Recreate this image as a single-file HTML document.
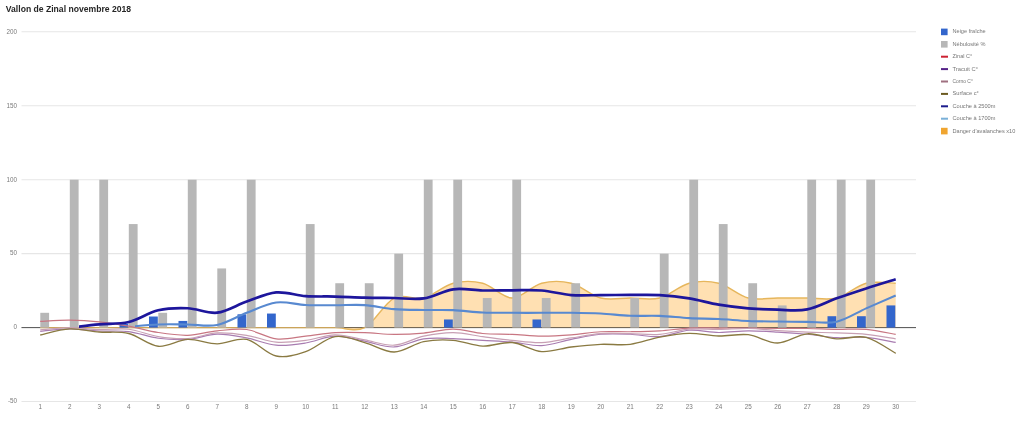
<!DOCTYPE html>
<html><head><meta charset="utf-8"><style>
html,body{margin:0;padding:0;background:#fff;width:1024px;height:422px;overflow:hidden}
svg{display:block;filter:blur(0.35px)}
text{font-family:"Liberation Sans",sans-serif}
.ax{font-size:6.3px;fill:#7a7a7a}
.lg{font-size:6.1px;fill:#767676}
.ti{font-size:9.8px;font-weight:bold;fill:#262626}
</style></head><body>
<svg width="1024" height="422" viewBox="0 0 1024 422">
<rect width="1024" height="422" fill="#fff"/>
<line x1="21.5" y1="31.80" x2="916" y2="31.80" stroke="#e6e6e6" stroke-width="1.1"/>
<line x1="21.5" y1="105.75" x2="916" y2="105.75" stroke="#e6e6e6" stroke-width="1.1"/>
<line x1="21.5" y1="179.70" x2="916" y2="179.70" stroke="#e6e6e6" stroke-width="1.1"/>
<line x1="21.5" y1="253.65" x2="916" y2="253.65" stroke="#e6e6e6" stroke-width="1.1"/>
<line x1="21.5" y1="401.55" x2="916" y2="401.55" stroke="#e6e6e6" stroke-width="1.1"/>
<text x="17" y="33.60" text-anchor="end" class="ax">200</text>
<text x="17" y="107.55" text-anchor="end" class="ax">150</text>
<text x="17" y="181.50" text-anchor="end" class="ax">100</text>
<text x="17" y="255.45" text-anchor="end" class="ax">50</text>
<text x="17" y="329.40" text-anchor="end" class="ax">0</text>
<text x="17" y="403.35" text-anchor="end" class="ax">-50</text>
<text x="40.20" y="409.1" text-anchor="middle" class="ax">1</text>
<text x="69.70" y="409.1" text-anchor="middle" class="ax">2</text>
<text x="99.20" y="409.1" text-anchor="middle" class="ax">3</text>
<text x="128.70" y="409.1" text-anchor="middle" class="ax">4</text>
<text x="158.20" y="409.1" text-anchor="middle" class="ax">5</text>
<text x="187.70" y="409.1" text-anchor="middle" class="ax">6</text>
<text x="217.20" y="409.1" text-anchor="middle" class="ax">7</text>
<text x="246.70" y="409.1" text-anchor="middle" class="ax">8</text>
<text x="276.20" y="409.1" text-anchor="middle" class="ax">9</text>
<text x="305.70" y="409.1" text-anchor="middle" class="ax">10</text>
<text x="335.20" y="409.1" text-anchor="middle" class="ax">11</text>
<text x="364.70" y="409.1" text-anchor="middle" class="ax">12</text>
<text x="394.20" y="409.1" text-anchor="middle" class="ax">13</text>
<text x="423.70" y="409.1" text-anchor="middle" class="ax">14</text>
<text x="453.20" y="409.1" text-anchor="middle" class="ax">15</text>
<text x="482.70" y="409.1" text-anchor="middle" class="ax">16</text>
<text x="512.20" y="409.1" text-anchor="middle" class="ax">17</text>
<text x="541.70" y="409.1" text-anchor="middle" class="ax">18</text>
<text x="571.20" y="409.1" text-anchor="middle" class="ax">19</text>
<text x="600.70" y="409.1" text-anchor="middle" class="ax">20</text>
<text x="630.20" y="409.1" text-anchor="middle" class="ax">21</text>
<text x="659.70" y="409.1" text-anchor="middle" class="ax">22</text>
<text x="689.20" y="409.1" text-anchor="middle" class="ax">23</text>
<text x="718.70" y="409.1" text-anchor="middle" class="ax">24</text>
<text x="748.20" y="409.1" text-anchor="middle" class="ax">25</text>
<text x="777.70" y="409.1" text-anchor="middle" class="ax">26</text>
<text x="807.20" y="409.1" text-anchor="middle" class="ax">27</text>
<text x="836.70" y="409.1" text-anchor="middle" class="ax">28</text>
<text x="866.20" y="409.1" text-anchor="middle" class="ax">29</text>
<text x="895.70" y="409.1" text-anchor="middle" class="ax">30</text>
<line x1="21.5" y1="327.6" x2="916" y2="327.6" stroke="#555" stroke-width="1"/>
<path d="M40.20,327.60 C45.12,327.60 59.87,327.60 69.70,327.60 C79.53,327.60 89.37,327.60 99.20,327.60 C109.03,327.60 118.87,327.60 128.70,327.60 C138.53,327.60 148.37,327.60 158.20,327.60 C168.03,327.60 177.87,327.60 187.70,327.60 C197.53,327.60 207.37,327.60 217.20,327.60 C227.03,327.60 236.87,327.60 246.70,327.60 C256.53,327.60 266.37,327.60 276.20,327.60 C286.03,327.60 295.87,327.60 305.70,327.60 C315.53,327.60 325.37,327.60 335.20,327.60 C345.03,327.60 354.87,332.53 364.70,327.60 C374.53,322.67 384.37,302.95 394.20,298.02 C404.03,293.09 413.87,300.49 423.70,298.02 C433.53,295.56 443.37,285.70 453.20,283.23 C463.03,280.76 472.87,280.76 482.70,283.23 C492.53,285.70 502.37,298.02 512.20,298.02 C522.03,298.02 531.87,285.70 541.70,283.23 C551.53,280.76 561.37,280.76 571.20,283.23 C581.03,285.70 590.87,295.56 600.70,298.02 C610.53,300.49 620.37,298.02 630.20,298.02 C640.03,298.02 649.87,300.49 659.70,298.02 C669.53,295.56 679.37,285.70 689.20,283.23 C699.03,280.76 708.87,280.76 718.70,283.23 C728.53,285.70 738.37,295.56 748.20,298.02 C758.03,300.49 767.87,298.02 777.70,298.02 C787.53,298.02 797.37,298.02 807.20,298.02 C817.03,298.02 826.87,300.49 836.70,298.02 C846.53,295.56 856.37,285.70 866.20,283.23 C876.03,280.76 890.78,283.23 895.70,283.23 L895.70,327.6 L40.20,327.6 Z" fill="#ff9900" fill-opacity="0.3" stroke="none"/>
<path d="M40.20,327.60 C45.12,327.60 59.87,327.60 69.70,327.60 C79.53,327.60 89.37,327.60 99.20,327.60 C109.03,327.60 118.87,327.60 128.70,327.60 C138.53,327.60 148.37,327.60 158.20,327.60 C168.03,327.60 177.87,327.60 187.70,327.60 C197.53,327.60 207.37,327.60 217.20,327.60 C227.03,327.60 236.87,327.60 246.70,327.60 C256.53,327.60 266.37,327.60 276.20,327.60 C286.03,327.60 295.87,327.60 305.70,327.60 C315.53,327.60 325.37,327.60 335.20,327.60 C345.03,327.60 354.87,332.53 364.70,327.60 C374.53,322.67 384.37,302.95 394.20,298.02 C404.03,293.09 413.87,300.49 423.70,298.02 C433.53,295.56 443.37,285.70 453.20,283.23 C463.03,280.76 472.87,280.76 482.70,283.23 C492.53,285.70 502.37,298.02 512.20,298.02 C522.03,298.02 531.87,285.70 541.70,283.23 C551.53,280.76 561.37,280.76 571.20,283.23 C581.03,285.70 590.87,295.56 600.70,298.02 C610.53,300.49 620.37,298.02 630.20,298.02 C640.03,298.02 649.87,300.49 659.70,298.02 C669.53,295.56 679.37,285.70 689.20,283.23 C699.03,280.76 708.87,280.76 718.70,283.23 C728.53,285.70 738.37,295.56 748.20,298.02 C758.03,300.49 767.87,298.02 777.70,298.02 C787.53,298.02 797.37,298.02 807.20,298.02 C817.03,298.02 826.87,300.49 836.70,298.02 C846.53,295.56 856.37,285.70 866.20,283.23 C876.03,280.76 890.78,283.23 895.70,283.23" fill="none" stroke="#e6b65c" stroke-width="1.4"/>
<line x1="21.5" y1="327.6" x2="916" y2="327.6" stroke="#555" stroke-width="1" stroke-opacity="0.2"/>
<rect x="40.30" y="312.81" width="8.8" height="14.79" fill="#b7b7b7"/>
<rect x="69.80" y="179.70" width="8.8" height="147.90" fill="#b7b7b7"/>
<rect x="99.30" y="179.70" width="8.8" height="147.90" fill="#b7b7b7"/>
<rect x="119.50" y="323.75" width="8.8" height="3.85" fill="#3366cc"/>
<rect x="128.80" y="224.07" width="8.8" height="103.53" fill="#b7b7b7"/>
<rect x="149.00" y="316.51" width="8.8" height="11.09" fill="#3366cc"/>
<rect x="158.30" y="312.81" width="8.8" height="14.79" fill="#b7b7b7"/>
<rect x="178.50" y="320.94" width="8.8" height="6.66" fill="#3366cc"/>
<rect x="187.80" y="179.70" width="8.8" height="147.90" fill="#b7b7b7"/>
<rect x="217.30" y="268.44" width="8.8" height="59.16" fill="#b7b7b7"/>
<rect x="237.50" y="314.29" width="8.8" height="13.31" fill="#3366cc"/>
<rect x="246.80" y="179.70" width="8.8" height="147.90" fill="#b7b7b7"/>
<rect x="267.00" y="313.55" width="8.8" height="14.05" fill="#3366cc"/>
<rect x="305.80" y="224.07" width="8.8" height="103.53" fill="#b7b7b7"/>
<rect x="335.30" y="283.23" width="8.8" height="44.37" fill="#b7b7b7"/>
<rect x="364.80" y="283.23" width="8.8" height="44.37" fill="#b7b7b7"/>
<rect x="394.30" y="253.65" width="8.8" height="73.95" fill="#b7b7b7"/>
<rect x="423.80" y="179.70" width="8.8" height="147.90" fill="#b7b7b7"/>
<rect x="444.00" y="319.47" width="8.8" height="8.13" fill="#3366cc"/>
<rect x="453.30" y="179.70" width="8.8" height="147.90" fill="#b7b7b7"/>
<rect x="482.80" y="298.02" width="8.8" height="29.58" fill="#b7b7b7"/>
<rect x="512.30" y="179.70" width="8.8" height="147.90" fill="#b7b7b7"/>
<rect x="532.50" y="319.47" width="8.8" height="8.13" fill="#3366cc"/>
<rect x="541.80" y="298.02" width="8.8" height="29.58" fill="#b7b7b7"/>
<rect x="571.30" y="283.23" width="8.8" height="44.37" fill="#b7b7b7"/>
<rect x="630.30" y="298.02" width="8.8" height="29.58" fill="#b7b7b7"/>
<rect x="659.80" y="253.65" width="8.8" height="73.95" fill="#b7b7b7"/>
<rect x="689.30" y="179.70" width="8.8" height="147.90" fill="#b7b7b7"/>
<rect x="718.80" y="224.07" width="8.8" height="103.53" fill="#b7b7b7"/>
<rect x="748.30" y="283.23" width="8.8" height="44.37" fill="#b7b7b7"/>
<rect x="777.80" y="305.42" width="8.8" height="22.19" fill="#b7b7b7"/>
<rect x="807.30" y="179.70" width="8.8" height="147.90" fill="#b7b7b7"/>
<rect x="827.50" y="316.21" width="8.8" height="11.39" fill="#3366cc"/>
<rect x="836.80" y="179.70" width="8.8" height="147.90" fill="#b7b7b7"/>
<rect x="857.00" y="316.21" width="8.8" height="11.39" fill="#3366cc"/>
<rect x="866.30" y="179.70" width="8.8" height="147.90" fill="#b7b7b7"/>
<rect x="886.50" y="305.42" width="8.8" height="22.19" fill="#3366cc"/>
<path d="M40.20,321.39 C45.12,321.19 59.87,320.13 69.70,320.21 C79.53,320.28 89.37,320.85 99.20,321.83 C109.03,322.82 118.87,324.35 128.70,326.12 C138.53,327.90 148.37,330.95 158.20,332.48 C168.03,334.01 177.87,335.56 187.70,335.29 C197.53,335.02 207.37,331.82 217.20,330.85 C227.03,329.89 236.87,328.19 246.70,329.52 C256.53,330.85 266.37,337.73 276.20,338.84 C286.03,339.95 295.87,337.21 305.70,336.18 C315.53,335.14 325.37,333.22 335.20,332.63 C345.03,332.04 354.87,332.33 364.70,332.63 C374.53,332.92 384.37,334.33 394.20,334.40 C404.03,334.48 413.87,333.96 423.70,333.07 C433.53,332.18 443.37,329.01 453.20,329.08 C463.03,329.15 472.87,332.63 482.70,333.52 C492.53,334.40 502.37,333.96 512.20,334.40 C522.03,334.85 531.87,336.10 541.70,336.18 C551.53,336.25 561.37,335.59 571.20,334.85 C581.03,334.11 590.87,332.26 600.70,331.74 C610.53,331.22 620.37,331.89 630.20,331.74 C640.03,331.59 649.87,331.47 659.70,330.85 C669.53,330.24 679.37,328.51 689.20,328.04 C699.03,327.58 708.87,328.04 718.70,328.04 C728.53,328.04 738.37,327.97 748.20,328.04 C758.03,328.12 767.87,328.41 777.70,328.49 C787.53,328.56 797.37,328.34 807.20,328.49 C817.03,328.64 826.87,329.23 836.70,329.37 C846.53,329.52 856.37,328.54 866.20,329.37 C876.03,330.21 890.78,333.57 895.70,334.40" fill="none" stroke="#c87682" stroke-width="1.2"/>
<path d="M40.20,331.30 C45.12,330.88 59.87,328.83 69.70,328.78 C79.53,328.73 89.37,330.53 99.20,331.00 C109.03,331.47 118.87,330.39 128.70,331.59 C138.53,332.80 148.37,336.94 158.20,338.25 C168.03,339.56 177.87,340.12 187.70,339.43 C197.53,338.74 207.37,334.35 217.20,334.11 C227.03,333.86 236.87,336.10 246.70,337.95 C256.53,339.80 266.37,344.36 276.20,345.20 C286.03,346.04 295.87,344.49 305.70,342.98 C315.53,341.48 325.37,336.47 335.20,336.18 C345.03,335.88 354.87,339.41 364.70,341.21 C374.53,343.01 384.37,347.37 394.20,346.97 C404.03,346.58 413.87,340.25 423.70,338.84 C433.53,337.44 443.37,338.30 453.20,338.54 C463.03,338.79 472.87,339.73 482.70,340.32 C492.53,340.91 502.37,341.21 512.20,342.09 C522.03,342.98 531.87,346.09 541.70,345.64 C551.53,345.20 561.37,341.33 571.20,339.43 C581.03,337.53 590.87,335.12 600.70,334.26 C610.53,333.39 620.37,333.86 630.20,334.26 C640.03,334.65 649.87,337.29 659.70,336.62 C669.53,335.96 679.37,330.95 689.20,330.26 C699.03,329.57 708.87,332.38 718.70,332.48 C728.53,332.58 738.37,330.93 748.20,330.85 C758.03,330.78 767.87,331.47 777.70,332.04 C787.53,332.60 797.37,333.32 807.20,334.26 C817.03,335.19 826.87,337.14 836.70,337.66 C846.53,338.17 856.37,336.57 866.20,337.36 C876.03,338.15 890.78,341.55 895.70,342.39" fill="none" stroke="#a87cb0" stroke-width="1.2"/>
<path d="M40.20,329.82 C45.12,329.45 59.87,327.62 69.70,327.60 C79.53,327.58 89.37,329.40 99.20,329.67 C109.03,329.94 118.87,328.07 128.70,329.23 C138.53,330.39 148.37,335.07 158.20,336.62 C168.03,338.17 177.87,339.16 187.70,338.54 C197.53,337.93 207.37,333.47 217.20,332.92 C227.03,332.38 236.87,333.76 246.70,335.29 C256.53,336.82 266.37,341.26 276.20,342.09 C286.03,342.93 295.87,341.53 305.70,340.32 C315.53,339.11 325.37,334.92 335.20,334.85 C345.03,334.77 354.87,338.15 364.70,339.88 C374.53,341.60 384.37,345.82 394.20,345.20 C404.03,344.58 413.87,338.27 423.70,336.18 C433.53,334.08 443.37,332.55 453.20,332.63 C463.03,332.70 472.87,335.34 482.70,336.62 C492.53,337.90 502.37,339.33 512.20,340.32 C522.03,341.31 531.87,342.93 541.70,342.54 C551.53,342.14 561.37,339.43 571.20,337.95 C581.03,336.47 590.87,334.38 600.70,333.66 C610.53,332.95 620.37,333.54 630.20,333.66 C640.03,333.79 649.87,335.17 659.70,334.40 C669.53,333.64 679.37,329.89 689.20,329.08 C699.03,328.27 708.87,329.62 718.70,329.52 C728.53,329.42 738.37,328.31 748.20,328.49 C758.03,328.66 767.87,329.97 777.70,330.56 C787.53,331.15 797.37,331.64 807.20,332.04 C817.03,332.43 826.87,332.53 836.70,332.92 C846.53,333.32 856.37,333.42 866.20,334.40 C876.03,335.39 890.78,338.10 895.70,338.84" fill="none" stroke="#c8a0b4" stroke-width="1.2"/>
<path d="M40.20,335.00 C45.12,333.98 59.87,329.42 69.70,328.93 C79.53,328.44 89.37,331.27 99.20,332.04 C109.03,332.80 118.87,331.15 128.70,333.52 C138.53,335.88 148.37,345.25 158.20,346.24 C168.03,347.22 177.87,339.83 187.70,339.43 C197.53,339.04 207.37,343.87 217.20,343.87 C227.03,343.87 236.87,337.41 246.70,339.43 C256.53,341.45 266.37,353.98 276.20,356.00 C286.03,358.02 295.87,354.79 305.70,351.56 C315.53,348.33 325.37,338.13 335.20,336.62 C345.03,335.12 354.87,339.97 364.70,342.54 C374.53,345.10 384.37,352.15 394.20,352.00 C404.03,351.86 413.87,343.60 423.70,341.65 C433.53,339.70 443.37,339.58 453.20,340.32 C463.03,341.06 472.87,345.72 482.70,346.09 C492.53,346.46 502.37,341.63 512.20,342.54 C522.03,343.45 531.87,350.82 541.70,351.56 C551.53,352.30 561.37,348.18 571.20,346.97 C581.03,345.77 590.87,344.76 600.70,344.31 C610.53,343.87 620.37,345.52 630.20,344.31 C640.03,343.10 649.87,338.89 659.70,337.07 C669.53,335.24 679.37,333.54 689.20,333.37 C699.03,333.20 708.87,335.81 718.70,336.03 C728.53,336.25 738.37,333.54 748.20,334.70 C758.03,335.86 767.87,343.13 777.70,342.98 C787.53,342.83 797.37,334.50 807.20,333.81 C817.03,333.12 826.87,338.25 836.70,338.84 C846.53,339.43 856.37,334.95 866.20,337.36 C876.03,339.78 890.78,350.67 895.70,353.33" fill="none" stroke="#8a7a42" stroke-width="1.35"/>
<clipPath id="c25"><rect x="79" y="0" width="900" height="422"/></clipPath>
<clipPath id="c17"><rect x="135" y="0" width="900" height="422"/></clipPath>
<path d="M69.70,327.60 C74.62,327.06 89.37,325.28 99.20,324.35 C109.03,323.41 118.87,324.32 128.70,321.98 C138.53,319.64 148.37,312.59 158.20,310.30 C168.03,308.00 177.87,307.83 187.70,308.23 C197.53,308.62 207.37,313.77 217.20,312.66 C227.03,311.55 236.87,304.95 246.70,301.57 C256.53,298.19 266.37,293.31 276.20,292.40 C286.03,291.49 295.87,295.41 305.70,296.10 C315.53,296.79 325.37,296.29 335.20,296.54 C345.03,296.79 354.87,297.33 364.70,297.58 C374.53,297.82 384.37,297.87 394.20,298.02 C404.03,298.17 413.87,299.92 423.70,298.46 C433.53,297.01 443.37,290.62 453.20,289.29 C463.03,287.96 472.87,290.30 482.70,290.48 C492.53,290.65 502.37,290.33 512.20,290.33 C522.03,290.33 531.87,289.69 541.70,290.48 C551.53,291.27 561.37,294.30 571.20,295.06 C581.03,295.83 590.87,295.09 600.70,295.06 C610.53,295.04 620.37,294.91 630.20,294.91 C640.03,294.91 649.87,294.50 659.70,295.06 C669.53,295.63 679.37,296.71 689.20,298.32 C699.03,299.92 708.87,303.00 718.70,304.68 C728.53,306.35 738.37,307.53 748.20,308.37 C758.03,309.21 767.87,309.53 777.70,309.70 C787.53,309.88 797.37,311.31 807.20,309.41 C817.03,307.51 826.87,301.82 836.70,298.32 C846.53,294.82 856.37,291.59 866.20,288.41 C876.03,285.23 890.78,280.77 895.70,279.24" fill="none" stroke="#1d169c" stroke-width="2.7" clip-path="url(#c25)"/>
<path d="M128.70,326.86 C133.62,326.47 148.37,324.89 158.20,324.49 C168.03,324.10 177.87,324.42 187.70,324.49 C197.53,324.57 207.37,326.89 217.20,324.94 C227.03,322.99 236.87,316.56 246.70,312.81 C256.53,309.06 266.37,303.76 276.20,302.46 C286.03,301.15 295.87,304.50 305.70,304.97 C315.53,305.44 325.37,305.24 335.20,305.27 C345.03,305.29 354.87,304.48 364.70,305.12 C374.53,305.76 384.37,308.30 394.20,309.11 C404.03,309.93 413.87,309.83 423.70,310.00 C433.53,310.17 443.37,309.73 453.20,310.15 C463.03,310.57 472.87,312.07 482.70,312.51 C492.53,312.96 502.37,312.76 512.20,312.81 C522.03,312.86 531.87,312.81 541.70,312.81 C551.53,312.81 561.37,312.69 571.20,312.81 C581.03,312.93 590.87,313.06 600.70,313.55 C610.53,314.04 620.37,315.37 630.20,315.77 C640.03,316.16 649.87,315.52 659.70,315.92 C669.53,316.31 679.37,317.62 689.20,318.13 C699.03,318.65 708.87,318.55 718.70,319.02 C728.53,319.49 738.37,320.53 748.20,320.94 C758.03,321.36 767.87,321.39 777.70,321.54 C787.53,321.68 797.37,321.81 807.20,321.83 C817.03,321.86 826.87,323.93 836.70,321.68 C846.53,319.44 856.37,312.74 866.20,308.37 C876.03,304.01 890.78,297.65 895.70,295.51" fill="none" stroke="#5889d0" stroke-width="2.1" clip-path="url(#c17)"/>
<rect x="941" y="28.60" width="6.6" height="6.6" fill="#3366cc"/>
<text x="952.5" y="33.30" class="lg" textLength="33.2" lengthAdjust="spacingAndGlyphs">Neige fraîche</text>
<rect x="941" y="41.00" width="6.6" height="6.6" fill="#b7b7b7"/>
<text x="952.5" y="45.70" class="lg" textLength="33.0" lengthAdjust="spacingAndGlyphs">Nébulosité %</text>
<rect x="941" y="55.70" width="7" height="2" fill="#cc2233"/>
<text x="952.5" y="58.10" class="lg" textLength="19.6" lengthAdjust="spacingAndGlyphs">Zinal C°</text>
<rect x="941" y="68.10" width="7" height="2" fill="#552288"/>
<text x="952.5" y="70.50" class="lg" textLength="25.5" lengthAdjust="spacingAndGlyphs">Tracuit C°</text>
<rect x="941" y="80.50" width="7" height="2" fill="#a07080"/>
<text x="952.5" y="82.90" class="lg" textLength="20.4" lengthAdjust="spacingAndGlyphs">Corno C°</text>
<rect x="941" y="92.90" width="7" height="2" fill="#6b5a20"/>
<text x="952.5" y="95.30" class="lg" textLength="26.3" lengthAdjust="spacingAndGlyphs">Surface c°</text>
<rect x="941" y="105.30" width="7" height="2" fill="#1c1c8c"/>
<text x="952.5" y="107.70" class="lg" textLength="42.9" lengthAdjust="spacingAndGlyphs">Couche à 2500m</text>
<rect x="941" y="117.70" width="7" height="2" fill="#7ab0d8"/>
<text x="952.5" y="120.10" class="lg" textLength="42.9" lengthAdjust="spacingAndGlyphs">Couche à 1700m</text>
<rect x="941" y="127.80" width="6.6" height="6.6" fill="#f0a530"/>
<text x="952.5" y="132.50" class="lg" textLength="62.8" lengthAdjust="spacingAndGlyphs">Danger d'avalanches x10</text>
<text x="5.8" y="11.8" class="ti" textLength="125.3" lengthAdjust="spacingAndGlyphs">Vallon de Zinal novembre 2018</text>
</svg>
</body></html>
